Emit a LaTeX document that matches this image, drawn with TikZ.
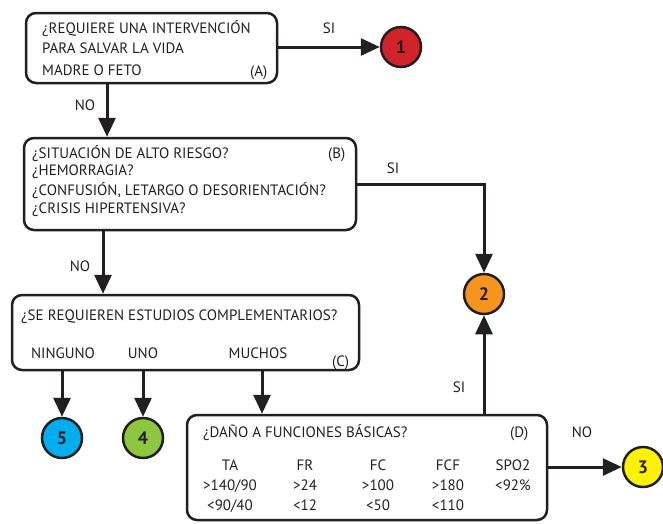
\documentclass[tikz,border=0pt]{standalone}
\usepackage{fontspec}
\setmainfont{PT Sans}
\usetikzlibrary{arrows.meta}
\definecolor{cred}{HTML}{D2232A}
\definecolor{corange}{HTML}{F7941D}
\definecolor{cyellow}{HTML}{FFF200}
\definecolor{cgreen}{HTML}{8DC63F}
\definecolor{cblue}{HTML}{00AEEF}
\definecolor{ink}{HTML}{231F20}
\begin{document}
\begin{tikzpicture}[x=1pt,y=-1pt,
  box/.style={draw=ink, line width=2.5pt, rounded corners=10pt, inner sep=0pt},
  num/.style={circle, draw=ink, line width=2.5pt, minimum size=40pt, inner sep=0pt, text=ink, font=\fontsize{18}{18}\selectfont\bfseries},
  txt/.style={anchor=base west, inner sep=0pt, text=ink, font=\fontsize{15}{15}\selectfont},
  ctxt/.style={anchor=base, inner sep=0pt, text=ink, font=\fontsize{15}{15}\selectfont},
  arr/.style={draw=ink, line width=3pt, -{Triangle[length=19pt,width=17pt]}}
]
\useasboundingbox (0,0) rectangle (663,523);
% boxes
\node[box, minimum width=251pt, minimum height=70pt] (A) at (151.5,48) {};
\node[box, minimum width=332pt, minimum height=92pt] (B) at (190,184) {};
\node[box, minimum width=347pt, minimum height=75pt] (C) at (185.5,332.5) {};
\node[box, minimum width=360pt, minimum height=105pt] (D) at (367,467.5) {};
% circles
\node[num, fill=cred] (c1) at (401,47) {1};
\node[num, fill=corange] (c2) at (484,294) {2};
\node[num, fill=cyellow] (c3) at (643,467) {3};
\node[num, fill=cgreen] (c4) at (143,438) {4};
\node[num, fill=cblue] (c5) at (62,438) {5};
% box A text
\node[txt] (a1) at (42,33) {¿REQUIERE UNA INTERVENCIÓN};
\node[txt] (a2) at (42,53) {PARA SALVAR LA VIDA};
\node[txt] (a3) at (42,75) {MADRE O FETO};
\node[txt] (a4) at (250,76) {(A)};
% box B text
\node[txt] (b1) at (32,158) {¿SITUACIÓN DE ALTO RIESGO?};
\node[txt] (b2) at (32,175) {¿HEMORRAGIA?};
\node[txt] (b3) at (32,195) {¿CONFUSIÓN, LETARGO O DESORIENTACIÓN?};
\node[txt] (b4) at (32,213) {¿CRISIS HIPERTENSIVA?};
\node[txt] (b5) at (328,158) {(B)};
% box C text
\node[txt] (t1) at (21,320) {¿SE REQUIEREN ESTUDIOS COMPLEMENTARIOS?};
\node[ctxt] (t2) at (63,358) {NINGUNO};
\node[ctxt] (t3) at (143,358) {UNO};
\node[ctxt] (t4) at (258,358) {MUCHOS};
\node[txt] (t5) at (332,366) {(C)};
% box D text
\node[txt] (d1) at (203,437) {¿DAÑO A FUNCIONES BÁSICAS?};
\node[txt] (d2) at (510,437) {(D)};
\node[ctxt] at (230,470) {TA};
\node[ctxt] at (305,470) {FR};
\node[ctxt] at (378,470) {FC};
\node[ctxt] at (448,470) {FCF};
\node[ctxt] at (513,470) {SPO2};
\node[ctxt] at (230,490) {>140/90};
\node[ctxt] at (305,490) {>24};
\node[ctxt] at (378,490) {>100};
\node[ctxt] at (448,490) {>180};
\node[ctxt] at (513,490) {<92\%};
\node[ctxt] at (230,510) {<90/40};
\node[ctxt] at (305,510) {<12};
\node[ctxt] at (378,510) {<50};
\node[ctxt] at (448,510) {<110};
% connector labels
\node[ctxt] (l1) at (329,33) {SI};
\node[ctxt] (l2) at (85,110) {NO};
\node[ctxt] (l3) at (393,173) {SI};
\node[ctxt] (l4) at (80,271) {NO};
\node[ctxt] (l5) at (459,392) {SI};
\node[ctxt] (l6) at (582,437) {NO};
% connectors
\draw[arr] (A.east |- c1) -- (c1);
\draw[arr] (A.south -| 107,0) -- (B.north -| 107,0);
\draw[arr] (B.east) -| (c2.north);
\draw[arr] (B.south -| 103,0) -- (C.north -| 103,0);
\draw[arr] (C.south -| c5) -- (c5);
\draw[arr] (C.south -| c4) -- (c4);
\draw[arr] (C.south -| 262,0) -- (D.north -| 262,0);
\draw[arr] (D.north -| c2) -- (c2);
\draw[arr] (D.east |- c3) -- (c3);
\end{tikzpicture}
\end{document}
